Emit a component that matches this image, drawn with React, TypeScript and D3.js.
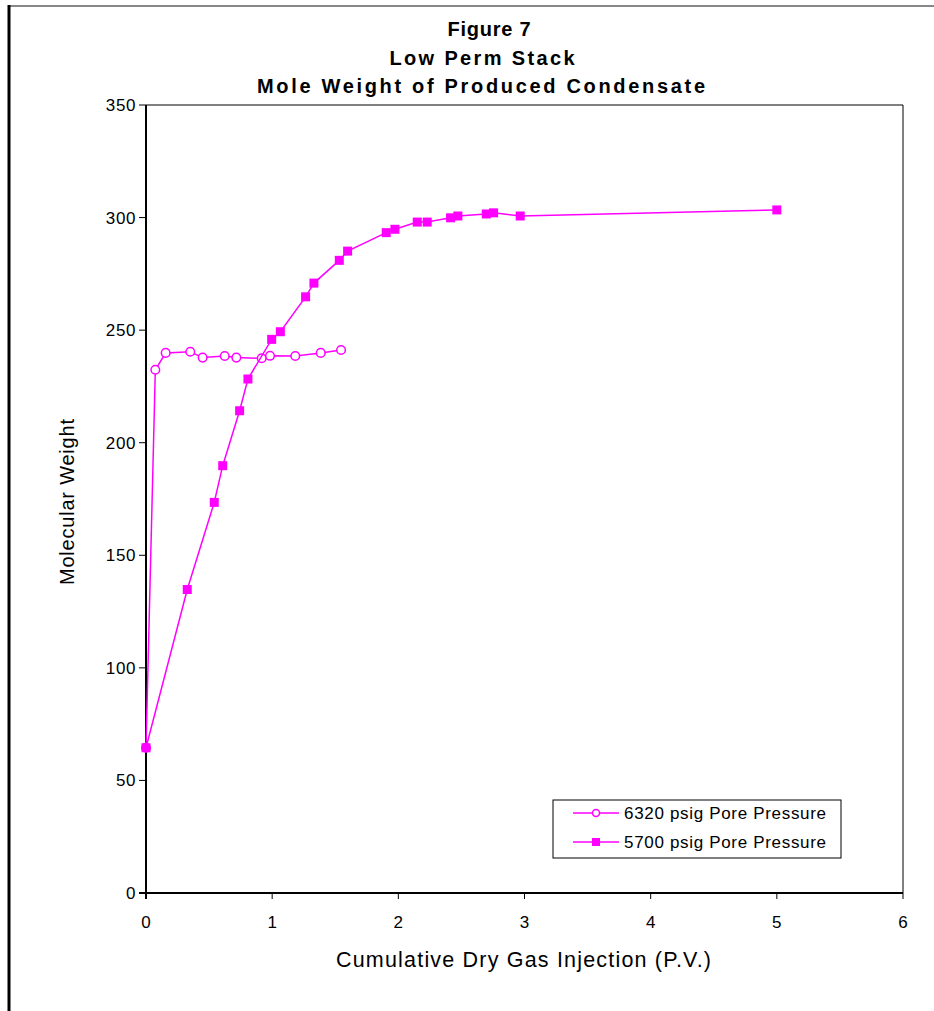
import * as d3 from "d3";
import React from "react";

// 6320 psig series (open circles)
const pv6320 = [0, 0.074, 0.156, 0.351, 0.449, 0.624, 0.716, 0.917, 0.983, 1.183, 1.385, 1.546];
const mw6320 = [64.5, 232.4, 239.9, 240.4, 237.8, 238.5, 237.8, 237.5, 238.6, 238.5, 239.9, 241.2];

// 5700 psig series (filled squares)
const pv5700 = [0, 0.327, 0.541, 0.608, 0.742, 0.808, 0.996, 1.065, 1.265, 1.331, 1.532, 1.598, 1.904, 1.973, 2.15, 2.229, 2.414, 2.472, 2.697, 2.755, 2.966, 5.0];
const mw5700 = [64.5, 134.8, 173.5, 189.8, 214.2, 228.3, 245.9, 249.3, 264.8, 270.9, 281, 285.1, 293.3, 294.8, 298, 298, 299.9, 300.7, 301.6, 302.1, 300.7, 303.4];

const xTicks = [0, 1, 2, 3, 4, 5, 6];
const yTicks = [0, 50, 100, 150, 200, 250, 300, 350];
const titleLines = ["Figure 7", "Low Perm Stack", "Mole Weight of Produced Condensate"];
const seriesNames = ["6320 psig Pore Pressure", "5700 psig Pore Pressure"];

const W = 934;
const H = 1011;
const left = 146, right = 903, top = 105, bottom = 893;
const MAGENTA = "#FF00FF";
const FONT = "'Liberation Sans', Arial, sans-serif";

// widths measured on the reference so the stretched Excel text lines up
const titleWidths = [83, 185, 448];
const titleCenters = [489, 482, 481];

export default function App() {
  const x = d3.scaleLinear().domain([0, 6]).range([left, right]);
  const y = d3.scaleLinear().domain([0, 350]).range([bottom, top]);

  const s1 = pv6320.map((v, i) => [v, mw6320[i]] as [number, number]);
  const s2 = pv5700.map((v, i) => [v, mw5700[i]] as [number, number]);

  const line = d3.line<[number, number]>()
    .x(d => x(d[0]))
    .y(d => y(d[1]));

  return (
    <svg width={W} height={H} style={{ position: "absolute", left: 0, top: 0, background: "#fff" }} fontFamily={FONT}>
      {/* outer frame */}
      <line x1={9} y1={6} x2={W} y2={6} stroke="#888" strokeWidth={2} />
      <line x1={9} y1={5} x2={9} y2={H} stroke="#000" strokeWidth={3} />

      {/* title */}
      {titleLines.map((t, i) => (
        <text key={t} x={titleCenters[i] - titleWidths[i] / 2} y={36 + i * 28.5} fontSize={20} fontWeight="bold"
          textLength={titleWidths[i]} lengthAdjust="spacing">
          {t}
        </text>
      ))}

      {/* plot border */}
      <line x1={left} y1={top} x2={right} y2={top} stroke="#000" strokeWidth={1} />
      <line x1={right} y1={top} x2={right} y2={bottom} stroke="#000" strokeWidth={1} />

      {/* y axis */}
      <line x1={left} y1={top} x2={left} y2={bottom + 6} stroke="#000" strokeWidth={2} />
      {yTicks.map(t => (
        <g key={t}>
          <line x1={left - 7} x2={left} y1={y(t)} y2={y(t)} stroke="#000" strokeWidth={1} />
          <text x={136} y={y(t) + 6} textAnchor="end" fontSize={17} letterSpacing={0.6}>{t}</text>
        </g>
      ))}
      <text transform={`translate(74,${(top + bottom) / 2 + 3}) rotate(-90)`} x={-83} fontSize={20}
        textLength={166} lengthAdjust="spacing">
        Molecular Weight
      </text>

      {/* x axis */}
      <line x1={left - 7} y1={bottom} x2={right} y2={bottom} stroke="#000" strokeWidth={2} />
      {xTicks.map(t => (
        <g key={t}>
          <line x1={x(t)} x2={x(t)} y1={bottom} y2={bottom + 6} stroke="#000" strokeWidth={1} />
          <text x={x(t)} y={928} textAnchor="middle" fontSize={17}>{t}</text>
        </g>
      ))}
      <text x={336} y={967} fontSize={21.5} textLength={375} lengthAdjust="spacing">
        Cumulative Dry Gas Injection (P.V.)
      </text>

      {/* series 1 */}
      <path d={line(s1) || ""} fill="none" stroke={MAGENTA} strokeWidth={1.5} />
      {s1.map((d, i) => (
        <circle key={i} cx={x(d[0])} cy={y(d[1])} r={4.3} fill="#fff" stroke={MAGENTA} strokeWidth={1.5} />
      ))}

      {/* series 2 */}
      <path d={line(s2) || ""} fill="none" stroke={MAGENTA} strokeWidth={1.5} />
      {s2.map((d, i) => (
        <rect key={i} x={x(d[0]) - 4.5} y={y(d[1]) - 4.5} width={9} height={9} fill={MAGENTA} />
      ))}

      {/* legend */}
      <rect x={553} y={800} width={288} height={58} fill="#fff" stroke="#000" strokeWidth={1} />
      {seriesNames.map((name, i) => {
        const ly = 813 + i * 29;
        return (
          <g key={name}>
            <line x1={573} x2={619} y1={ly} y2={ly} stroke={MAGENTA} strokeWidth={1.5} />
            {i === 0 ? (
              <circle cx={596} cy={ly} r={3.5} fill="#fff" stroke={MAGENTA} strokeWidth={1.5} />
            ) : (
              <rect x={592} y={ly - 4} width={8} height={8} fill={MAGENTA} />
            )}
            <text x={624} y={ly + 6} fontSize={17} textLength={202} lengthAdjust="spacing">{name}</text>
          </g>
        );
      })}
    </svg>
  );
}
